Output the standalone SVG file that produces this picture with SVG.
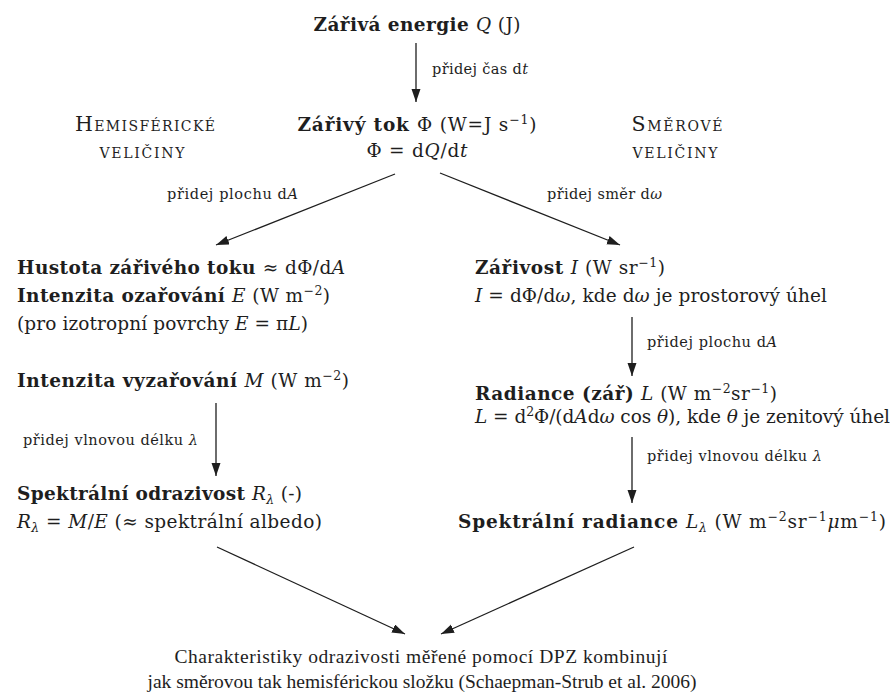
<svg xmlns="http://www.w3.org/2000/svg" width="893" height="694" viewBox="0 0 893 694" font-family="'DejaVu Serif', serif">
<style>
text{font-family:"DejaVu Serif","Liberation Serif",serif;fill:#1e1e1e}
.r{font-size:18.5px}
.s{font-size:14.5px}
.b{font-weight:bold}
.i{font-style:italic}
.sup{font-size:12.5px}
.sc{font-variant:small-caps;font-size:20.5px}
.ft{font-family:"Liberation Serif",serif;font-size:19.5px}
.edge{stroke:#1e1e1e;stroke-width:1.3;fill:none;marker-end:url(#ah)}
</style>
<defs>
<marker id="ah" markerUnits="userSpaceOnUse" markerWidth="14" markerHeight="10" refX="13" refY="4.5" orient="auto">
<path d="M0,0 L13,4.5 L0,9 z" fill="#1e1e1e"/>
</marker>
</defs>
<rect width="893" height="694" fill="#fff"/>

<g id="connectors">
<line class="edge" x1="416" y1="43" x2="416" y2="102"/>
<line class="edge" x1="395" y1="174" x2="216" y2="245"/>
<line class="edge" x1="440" y1="173" x2="620" y2="245"/>
<line class="edge" x1="216" y1="403" x2="216" y2="476"/>
<line class="edge" x1="632" y1="317" x2="632" y2="376"/>
<line class="edge" x1="632" y1="437" x2="632" y2="503"/>
<line class="edge" x1="217" y1="547" x2="405" y2="634"/>
<line class="edge" x1="634" y1="547" x2="441" y2="634"/>
</g>

<g id="edge-labels">
<text class="s" x="432" y="74" textLength="96">přidej čas d<tspan class="i">t</tspan></text>
<text class="s" x="167" y="199" textLength="131">přidej plochu d<tspan class="i">A</tspan></text>
<text class="s" x="547" y="199" textLength="115">přidej směr d<tspan class="i">ω</tspan></text>
<text class="s" x="23" y="445" textLength="175">přidej vlnovou délku <tspan class="i">λ</tspan></text>
<text class="s" x="647" y="347" textLength="130">přidej plochu d<tspan class="i">A</tspan></text>
<text class="s" x="647" y="461" textLength="175">přidej vlnovou délku <tspan class="i">λ</tspan></text>
</g>

<g id="energie">
<text class="r" x="417" y="31" text-anchor="middle" textLength="207"><tspan class="b">Zářivá energie </tspan><tspan class="i">Q</tspan> (J)</text>
</g>

<g id="tok">
<text class="r" x="417" y="131" text-anchor="middle" textLength="239"><tspan class="b">Zářivý tok </tspan>Φ (W=J s<tspan class="sup" dy="-7">−1</tspan><tspan dy="7">)</tspan></text>
<text class="r" x="417" y="157" text-anchor="middle" textLength="101">Φ = d<tspan class="i">Q</tspan>/d<tspan class="i">t</tspan></text>
</g>

<g id="hemisfericke">
<text class="sc" x="145" y="131" text-anchor="middle" textLength="140">Hemisférické</text>
<text class="sc" x="142" y="158" text-anchor="middle" textLength="85">veličiny</text>
</g>

<g id="smerove">
<text class="sc" x="677" y="131" text-anchor="middle" textLength="91">Směrové</text>
<text class="sc" x="675" y="158" text-anchor="middle" textLength="85">veličiny</text>
</g>

<g id="hustota">
<text class="r" x="17" y="274" textLength="328"><tspan class="b">Hustota zářivého toku </tspan>≈ dΦ/d<tspan class="i">A</tspan></text>
<text class="r" x="17" y="302" textLength="313"><tspan class="b">Intenzita ozařování </tspan><tspan class="i">E</tspan> (W m<tspan class="sup" dy="-7">−2</tspan><tspan dy="7">)</tspan></text>
<text class="r" x="17" y="330" textLength="291">(pro izotropní povrchy <tspan class="i">E</tspan> = π<tspan class="i">L</tspan>)</text>
</g>

<g id="vyzarovani">
<text class="r" x="17" y="387" textLength="332"><tspan class="b">Intenzita vyzařování </tspan><tspan class="i">M</tspan> (W m<tspan class="sup" dy="-7">−2</tspan><tspan dy="7">)</tspan></text>
</g>

<g id="odrazivost">
<text class="r" x="17" y="500" textLength="285"><tspan class="b">Spektrální odrazivost </tspan><tspan class="i">R</tspan><tspan class="sup i" dy="4">λ</tspan><tspan dy="-4"> (-)</tspan></text>
<text class="r" x="17" y="528" textLength="305"><tspan class="i">R</tspan><tspan class="sup i" dy="4">λ</tspan><tspan dy="-4"> = </tspan><tspan class="i">M</tspan>/<tspan class="i">E</tspan> (≈ spektrální albedo)</text>
</g>

<g id="zarivost">
<text class="r" x="475" y="274" textLength="190"><tspan class="b">Zářivost </tspan><tspan class="i">I</tspan> (W sr<tspan class="sup" dy="-7">−1</tspan><tspan dy="7">)</tspan></text>
<text class="r" x="475" y="302" textLength="352"><tspan class="i">I</tspan> = dΦ/d<tspan class="i">ω</tspan>, kde d<tspan class="i">ω</tspan> je prostorový úhel</text>
</g>

<g id="radiance">
<text class="r" x="475" y="400" textLength="302"><tspan class="b">Radiance (zář) </tspan><tspan class="i">L</tspan> (W m<tspan class="sup" dy="-7">−2</tspan><tspan dy="7">sr</tspan><tspan class="sup" dy="-7">−1</tspan><tspan dy="7">)</tspan></text>
<text class="r" x="475" y="423" textLength="415"><tspan class="i">L</tspan> = d<tspan class="sup" dy="-7">2</tspan><tspan dy="7">Φ/(d</tspan><tspan class="i">A</tspan>d<tspan class="i">ω</tspan> cos <tspan class="i">θ</tspan>), kde <tspan class="i">θ</tspan> je zenitový úhel</text>
</g>

<g id="spektralni-radiance">
<text class="r" x="458" y="528" textLength="428"><tspan class="b">Spektrální radiance </tspan><tspan class="i">L</tspan><tspan class="sup i" dy="4">λ</tspan><tspan dy="-4"> (W m</tspan><tspan class="sup" dy="-7">−2</tspan><tspan dy="7">sr</tspan><tspan class="sup" dy="-7">−1</tspan><tspan dy="7" class="i">μ</tspan>m<tspan class="sup" dy="-7">−1</tspan><tspan dy="7">)</tspan></text>
</g>

<g id="charakteristiky">
<text class="ft" x="421" y="663" text-anchor="middle" textLength="493">Charakteristiky odrazivosti měřené pomocí DPZ kombinují</text>
<text class="ft" x="422" y="688" text-anchor="middle" textLength="549">jak směrovou tak hemisférickou složku (Schaepman-Strub et al. 2006)</text>
</g>
</svg>
